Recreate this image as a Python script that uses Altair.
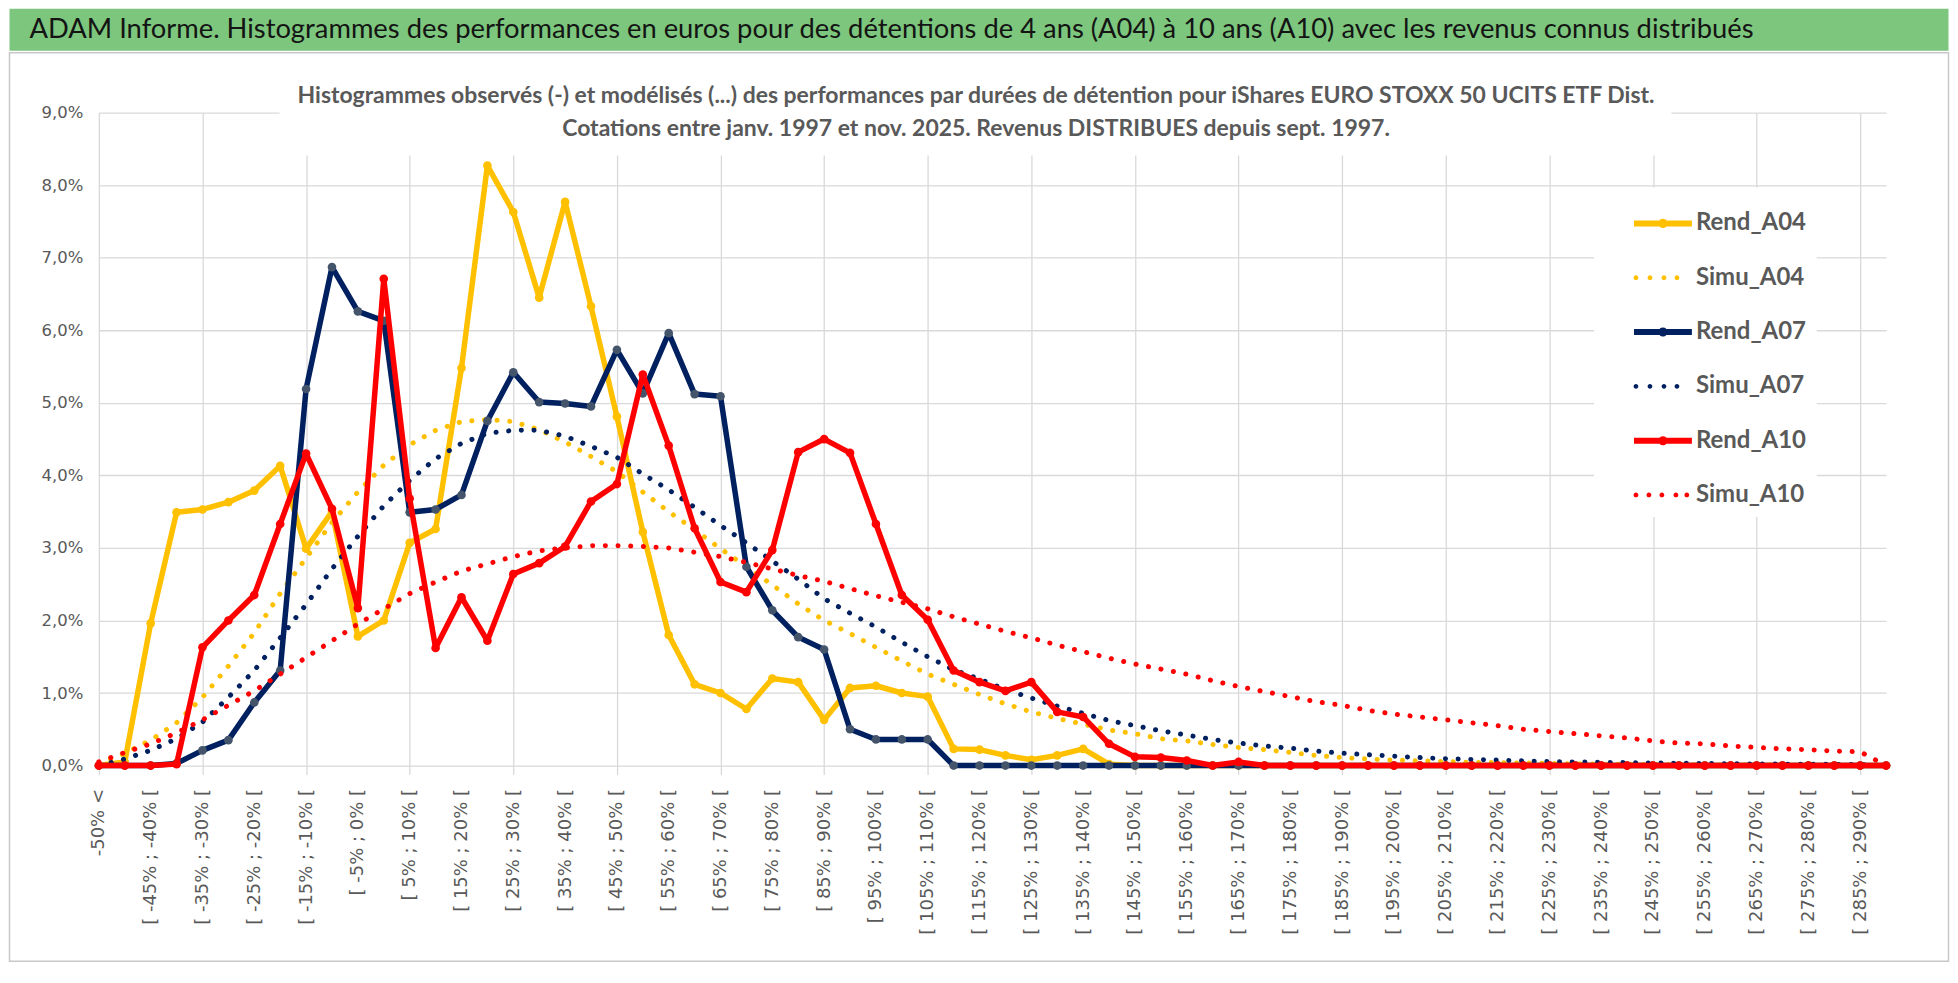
import json
import altair as alt
import pandas as pd

# ---------------- data ----------------
CATS = ["-50% <"] + [f"[ {lo}% ; {lo + 5}% [" for lo in range(-50, 290, 5)] + ["290% >"]

SERIES = ["Rend_A04", "Simu_A04", "Rend_A07", "Simu_A07", "Rend_A10", "Simu_A10"]

rend_a04 = [0.00, 0.05, 1.96, 3.49, 3.53, 3.63, 3.79, 4.13, 2.99, 3.50,
            1.78, 2.00, 3.07, 3.26, 5.48, 8.27, 7.63, 6.45, 7.77, 6.33,
            4.81, 3.22, 1.80, 1.12, 1.00, 0.78, 1.20, 1.15, 0.63, 1.07,
            1.10, 1.00, 0.95, 0.23, 0.22, 0.14, 0.08, 0.14, 0.23, 0.02,
            0, 0, 0, 0, 0, 0, 0, 0, 0, 0,
            0, 0, 0, 0, 0, 0, 0, 0, 0, 0,
            0, 0, 0, 0, 0, 0, 0, 0, 0, 0]

simu_a04 = [0.02, 0.17, 0.35, 0.59, 0.94, 1.37, 1.83, 2.37, 2.86, 3.35,
            3.77, 4.14, 4.42, 4.62, 4.74, 4.77, 4.74, 4.63, 4.46, 4.26,
            4.05, 3.77, 3.50, 3.25, 2.99, 2.74, 2.49, 2.23, 2.00, 1.82,
            1.63, 1.44, 1.26, 1.12, 0.98, 0.85, 0.74, 0.65, 0.57, 0.49,
            0.44, 0.37, 0.34, 0.29, 0.25, 0.22, 0.18, 0.14, 0.11, 0.09,
            0.075, 0.065, 0.055, 0.045, 0.04, 0.035, 0.03, 0.025, 0.02, 0.018,
            0.015, 0.012, 0.01, 0.008, 0.007, 0.006, 0.005, 0.004, 0.003, 0.0]

rend_a07 = [0.00, 0.00, 0.00, 0.03, 0.21, 0.35, 0.87, 1.31, 5.19, 6.87,
            6.26, 6.13, 3.49, 3.53, 3.73, 4.75, 5.42, 5.01, 4.99, 4.95,
            5.73, 5.13, 5.96, 5.12, 5.09, 2.74, 2.14, 1.77, 1.60, 0.50,
            0.36, 0.36, 0.36, 0, 0, 0, 0, 0, 0, 0,
            0, 0, 0, 0, 0, 0, 0, 0, 0, 0,
            0, 0, 0, 0, 0, 0, 0, 0, 0, 0,
            0, 0, 0, 0, 0, 0, 0, 0, 0, 0]

simu_a07 = [0.00, 0.09, 0.21, 0.37, 0.60, 0.94, 1.31, 1.76, 2.22, 2.71,
            3.16, 3.58, 3.93, 4.23, 4.44, 4.58, 4.62, 4.62, 4.54, 4.40,
            4.25, 4.02, 3.80, 3.56, 3.31, 3.07, 2.82, 2.57, 2.30, 2.10,
            1.91, 1.70, 1.50, 1.32, 1.19, 1.05, 0.93, 0.82, 0.72, 0.62,
            0.55, 0.48, 0.42, 0.36, 0.31, 0.27, 0.24, 0.20, 0.17, 0.15,
            0.13, 0.11, 0.095, 0.085, 0.075, 0.065, 0.055, 0.05, 0.045, 0.04,
            0.036, 0.032, 0.028, 0.025, 0.022, 0.02, 0.018, 0.016, 0.015, 0.0]

rend_a10 = [0.00, 0.00, 0.00, 0.02, 1.63, 2.00, 2.35, 3.33, 4.30, 3.54,
            2.17, 6.71, 3.68, 1.62, 2.32, 1.72, 2.64, 2.79, 3.02, 3.64,
            3.88, 5.39, 4.41, 3.27, 2.53, 2.39, 2.97, 4.32, 4.50, 4.31,
            3.33, 2.35, 2.01, 1.31, 1.15, 1.03, 1.15, 0.74, 0.67, 0.30,
            0.12, 0.11, 0.07, 0.00, 0.05, 0, 0, 0, 0, 0,
            0, 0, 0, 0, 0, 0, 0, 0, 0, 0,
            0, 0, 0, 0, 0, 0, 0, 0, 0, 0]

simu_a10 = [0.05, 0.18, 0.30, 0.45, 0.63, 0.83, 1.03, 1.26, 1.49, 1.72,
            1.95, 2.16, 2.37, 2.53, 2.68, 2.78, 2.88, 2.96, 3.00, 3.03,
            3.03, 3.02, 3.00, 2.94, 2.88, 2.80, 2.71, 2.62, 2.54, 2.44,
            2.34, 2.25, 2.16, 2.05, 1.95, 1.85, 1.76, 1.66, 1.57, 1.48,
            1.40, 1.33, 1.26, 1.17, 1.09, 1.02, 0.95, 0.88, 0.83, 0.76,
            0.71, 0.67, 0.63, 0.59, 0.55, 0.50, 0.47, 0.44, 0.41, 0.38,
            0.34, 0.31, 0.30, 0.27, 0.25, 0.23, 0.22, 0.20, 0.19, 0.0]

VALUES = {"Rend_A04": rend_a04, "Simu_A04": simu_a04, "Rend_A07": rend_a07,
          "Simu_A07": simu_a07, "Rend_A10": rend_a10, "Simu_A10": simu_a10}

BANNER = ("ADAM Informe. Histogrammes des performances en euros pour des détentions "
          "de 4 ans (A04) à 10 ans (A10) avec les revenus connus distribués")
SUBTITLE = ["Histogrammes observés (-) et modélisés (...) des performances par durées "
            "de détention pour iShares EURO STOXX 50 UCITS ETF Dist.",
            "Cotations entre janv. 1997 et nov. 2025. Revenus DISTRIBUES depuis sept. 1997."]

# ---------------- styles ----------------
YEL, NAVY, RED = "#FFC000", "#002060", "#FF0000"
COLORS = {"Rend_A04": YEL, "Simu_A04": YEL, "Rend_A07": NAVY,
          "Simu_A07": NAVY, "Rend_A10": RED, "Simu_A10": RED}
MARKER = {"Rend_A04": YEL, "Rend_A07": "#44546A", "Rend_A10": RED}
GRID = "#D9D9D9"
TXT = "#595959"
GREEN = "#7DC67D"
SANS = "Lato"
W, H = 1790, 654


def circle(cx, r):
    return (f"M{cx - r:.3f},0 A{r:.3f},{r:.3f} 0 1 1 {cx + r:.3f},0 "
            f"A{r:.3f},{r:.3f} 0 1 1 {cx - r:.3f},0 Z")


LINE_SYM = "M-1.115,-0.115 L1.115,-0.115 L1.115,0.115 L-1.115,0.115 Z " + circle(0, 0.175)
DOT4 = " ".join(circle(c, 0.092) for c in (-1.04, -0.5, 0.04, 0.54))
DOT5 = " ".join(circle(c, 0.092) for c in (-1.04, -0.54, -0.04, 0.5, 0.92))
SHAPES = [LINE_SYM, DOT4, LINE_SYM, DOT4, LINE_SYM, DOT5]

rows = []
for s in SERIES:
    for i, v in enumerate(VALUES[s]):
        rows.append({"idx": i, "series": s, "value": v})
df = pd.DataFrame(rows)

label_expr = json.dumps(CATS) + "[datum.value]"
every4 = {"condition": {"test": "datum.value % 4 === 0", "value": 1}, "value": 0}

x_enc = alt.X(
    "idx:Q",
    scale=alt.Scale(domain=[0, 69], nice=False, zero=False),
    axis=alt.Axis(
        values=list(range(0, 69, 2)), labelExpr=label_expr, labelAngle=270,
        grid=True, gridColor=GRID, gridWidth=1.3, gridOpacity=every4,
        ticks=True, tickSize=9, tickColor=GRID, tickWidth=1.3, tickOpacity=every4,
        domain=False, labelFont="DejaVu Sans", labelFontSize=18, labelColor=TXT,
        labelPadding=14, labelOverlap=False, labelFlush=False, labelLimit=400, title=None,
    ),
)
y_enc = alt.Y(
    "value:Q",
    scale=alt.Scale(domain=[0, 9], nice=False),
    axis=alt.Axis(
        values=list(range(0, 10)),
        labelExpr="replace(format(datum.value, '.1f'), '.', ',') + '%'",
        grid=True, gridColor=GRID, gridWidth=1.3, domain=False, ticks=False,
        labelPadding=16, labelFont="DejaVu Sans", labelFontSize=16.5, labelColor=TXT,
        minExtent=89.5, title=None,
    ),
)

one = pd.DataFrame({"k": [0]})

# chart frame (thin grey border of the chart area, below the banner)
frame = alt.Chart(one).mark_rect(fillOpacity=0, stroke="#C8C8C8", strokeWidth=1.5).encode(
    x=alt.value(-89.5), x2=alt.value(1852.5), y=alt.value(-60), y2=alt.value(850))

# white box behind the inner title (hides the gridlines there, as in the original)
title_box = alt.Chart(one).mark_rect(color="white").encode(
    x=alt.value(181), x2=alt.value(1575), y=alt.value(-2), y2=alt.value(43))

base = alt.Chart(df).encode(x=x_enc, y=y_enc)
layers = [title_box]
for s in SERIES:
    sub = base.transform_filter(alt.datum.series == s)
    if s.startswith("Rend"):
        layers.append(sub.mark_line(color=COLORS[s], strokeWidth=5.5,
                                    strokeJoin="round", strokeCap="round"))
        layers.append(sub.mark_circle(color=MARKER[s], size=75, opacity=1))
    else:
        layers.append(sub.mark_line(color=COLORS[s], strokeWidth=5,
                                    strokeDash=[0.1, 12.6], strokeCap="round"))

leg = alt.Legend(
    title=None, orient="none", legendX=1497.5, legendY=75,
    fillColor="white", padding=10, rowPadding=16.4,
    labelFont=SANS, labelFontSize=24, labelFontWeight="bold", labelColor=TXT,
    labelExpr="datum.label + '          '", labelLimit=400,
    symbolOffset=33, labelOffset=7,
    symbolSize=2704, symbolStrokeWidth=0, symbolOpacity=1,
)
legend_layer = base.transform_filter("false").mark_point(filled=True, opacity=1, size=2704).encode(
    color=alt.Color("series:N", scale=alt.Scale(domain=SERIES, range=[COLORS[s] for s in SERIES]),
                    legend=leg),
    shape=alt.Shape("series:N", scale=alt.Scale(domain=SERIES, range=SHAPES), legend=leg),
)
layers.append(legend_layer)

# green banner with the main title
banner = alt.Chart(one).mark_rect(color=GREEN).encode(
    x=alt.value(-89.5), x2=alt.value(1852.5), y=alt.value(-104), y2=alt.value(-62))
banner_txt = alt.Chart(pd.DataFrame({"t": [BANNER]})).mark_text(
    align="left", baseline="alphabetic", font=SANS, fontSize=27.4, color="#141414", limit=1900,
).encode(text="t:N", x=alt.value(-69.5), y=alt.value(-75))

# inner two-line title
sub1 = alt.Chart(pd.DataFrame({"t": [SUBTITLE[0]]})).mark_text(
    align="center", baseline="alphabetic", font=SANS, fontSize=23, fontWeight="bold", color=TXT,
).encode(text="t:N", x=alt.value(878.5), y=alt.value(-10))
sub2 = alt.Chart(pd.DataFrame({"t": [SUBTITLE[1]]})).mark_text(
    align="center", baseline="alphabetic", font=SANS, fontSize=23, fontWeight="bold", color=TXT,
).encode(text="t:N", x=alt.value(878.5), y=alt.value(23))

layers += [frame, banner, banner_txt, sub1, sub2]

chart = alt.layer(*layers).properties(
    width=W, height=H, padding=0, background="white",
).configure_view(stroke=None)

chart.save("out.html", embed_options={"renderer": "svg", "actions": False})
